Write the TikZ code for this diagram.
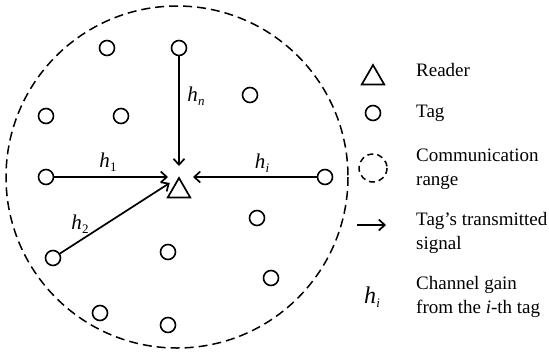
\documentclass[tikz,border=0pt]{standalone}
\usepackage{fontspec}
\setmainfont{Liberation Serif}
\usetikzlibrary{shapes.geometric,arrows.meta}

% channel gain symbol h with a small subscript
\newcommand{\chgain}[1]{\textit{h}\kern0.3pt\raisebox{-0.4ex}{\fontsize{13pt}{13pt}\selectfont #1}}

\tikzset{
  tag/.style={circle, draw, line width=1.6pt, minimum size=15pt, inner sep=0pt},
  reader/.style={regular polygon, regular polygon sides=3, draw, line width=1.7pt,
                 minimum size=26pt, inner sep=0pt},
  commrange/.style={draw, line width=1.5pt, dash pattern=on 9pt off 5pt},
  signal/.style={-{Straight Barb[length=6pt,width=11pt]}, line width=1.7pt, shorten >=11pt},
  gainlabel/.style={font=\fontsize{21pt}{21pt}\selectfont, inner sep=0pt},
  legendtext/.style={anchor=west, align=left, inner sep=0pt,
                     font=\fontsize{19pt}{24pt}\selectfont},
}

\begin{document}
\begin{tikzpicture}[x=1pt, y=-1pt]
    \useasboundingbox (0,0) rectangle (549,354);

    % communication range of the reader
    \draw[commrange] (177,177) circle (171);

    % reader in the middle
    \node[reader] (reader) at (179,191) {};
    \coordinate (hub) at (179,177);

    % tags
    \node[tag] (t1) at (107,48) {};
    \node[tag] (tn) at (179,48) {};
    \node[tag] (t3) at (250,95) {};
    \node[tag] (t4) at (46,116) {};
    \node[tag] (t5) at (121,116) {};
    \node[tag] (ta) at (46,177) {};
    \node[tag] (ti) at (325,177) {};
    \node[tag] (t8) at (257,218) {};
    \node[tag] (tb) at (53,258) {};
    \node[tag] (t10) at (168,252) {};
    \node[tag] (t11) at (271,278) {};
    \node[tag] (t12) at (100,313) {};
    \node[tag] (t13) at (168,325) {};

    % signals towards the reader
    \draw[signal] (ta) -- (hub);
    \draw[signal] (tb) -- (hub);
    \draw[signal] (tn) -- (hub);
    \draw[signal, shorten >=14pt] (ti) -- (hub);

    \node[gainlabel] (g1) at (108,162) {\chgain{1}};
    \node[gainlabel] (g2) at (80,224) {\chgain{2}};
    \node[gainlabel] (gn) at (196,96) {\chgain{\textit{n}}};
    \node[gainlabel] (gi) at (262,163) {\chgain{\textit{i}}};

    % legend
    \node[reader] (lreader) at (373,78) {};
    \node[legendtext] (treader) at (416,70) {Reader};
    \node[tag] (ltag) at (373,113) {};
    \node[legendtext] (ttag) at (416,113) {Tag};
    \draw[commrange, dash pattern=on 6pt off 4pt] (373,168) circle (14);
    \node[legendtext] (trange) at (416,169) {Communication\\range};
    \coordinate (sigfrom) at (357,225);
    \coordinate (sigto) at (386,225);
    \draw[signal, shorten >=0pt] (sigfrom) -- (sigto);
    \node[legendtext] (tsignal) at (416,233) {Tag's transmitted\\signal};
    \node[gainlabel, font=\fontsize{24pt}{24pt}\selectfont] (lgain) at (372,297) {\chgain{\textit{i}}};
    \node[legendtext] (tgain) at (416,297) {Channel gain\\from the \textit{i}-th tag};
\end{tikzpicture}
\end{document}
